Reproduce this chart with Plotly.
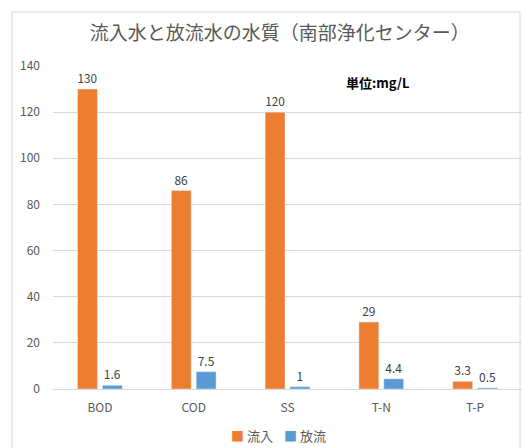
import plotly.graph_objects as go

categories = ["BOD", "COD", "SS", "T-N", "T-P"]
inflow = [130, 86, 120, 29, 3.3]
outflow = [1.6, 7.5, 1, 4.4, 0.5]
inflow_labels = ["130", "86", "120", "29", "3.3"]
outflow_labels = ["1.6", "7.5", "1", "4.4", "0.5"]
series_names = ["流入", "放流"]
series_colors = ["#ED7D31", "#5B9BD5"]

FONT = "Noto Sans CJK JP, Noto Sans, sans-serif"
GRAY = "#595959"

fig = go.Figure()
fig.add_trace(go.Bar(name=series_names[0], x=categories, y=inflow, marker_color=series_colors[0],
                     text=inflow_labels, textposition="outside", cliponaxis=False,
                     textfont=dict(size=12, color="#404040")))
fig.add_trace(go.Bar(name=series_names[1], x=categories, y=outflow, marker_color=series_colors[1],
                     text=outflow_labels, textposition="outside", cliponaxis=False,
                     textfont=dict(size=12, color="#404040")))

fig.update_layout(
    width=523, height=448,
    margin=dict(l=53, r=1, t=66, b=59),
    paper_bgcolor="white", plot_bgcolor="white",
    font=dict(family=FONT, color=GRAY),
    barmode="group", bargap=0.47, bargroupgap=0.2,
    title=dict(text="流入水と放流水の水質（南部浄化センター）", x=0.535, xanchor="center",
               y=0.925, yanchor="middle", font=dict(size=19, color=GRAY)),
    showlegend=False,
    xaxis=dict(showgrid=False, showline=True, linecolor="#d9d9d9", ticks="", automargin=False,
               ticklabelstandoff=8, tickfont=dict(size=12, color=GRAY)),
    yaxis=dict(range=[0, 140], dtick=20, showgrid=True, gridcolor="#d9d9d9", automargin=False,
               zeroline=False, showline=False, ticks="", ticklabelstandoff=12,
               tickfont=dict(size=12, color=GRAY)),
)

# legend drawn as text with coloured squares, one entry per series
legend_px = [252, 305]
for n, c, px in zip(series_names, series_colors, legend_px):
    fig.add_annotation(text=f"<span style='color:{c}'>■</span> {n}", xref="paper", yref="paper",
                       x=(px - 53) / 469, y=(389 - 435) / 323, showarrow=False,
                       xanchor="center", yanchor="middle",
                       font=dict(size=13, color=GRAY, family=FONT))

fig.add_annotation(text="単位:mg/L", xref="paper", yref="paper",
                   x=(378 - 53) / 469, y=(389 - 82) / 323, showarrow=False,
                   xanchor="center", yanchor="middle",
                   font=dict(size=13, color="#000000", family=FONT, weight=600))

fig.add_shape(type="rect", xref="paper", yref="paper",
              x0=(12 - 53) / 469, x1=(520 - 53) / 469, y0=-0.3, y1=(389 - 12) / 323,
              line=dict(color="#d9d9d9", width=1), fillcolor="rgba(0,0,0,0)", layer="below")

fig.write_html("out.html")
